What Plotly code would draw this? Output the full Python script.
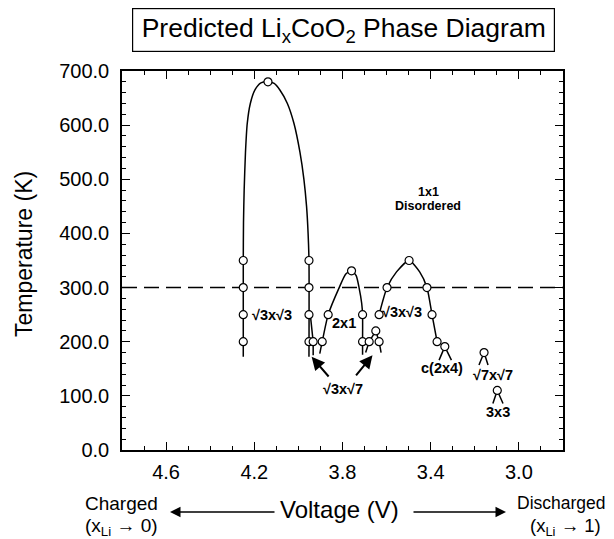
import plotly.graph_objects as go

# ---------------- data (Voltage V, Temperature K) ----------------
dome1_v = [4.25, 4.25, 4.249, 4.246, 4.240, 4.232, 4.218, 4.197, 4.17, 4.138, 4.11, 4.084, 4.05, 4.02, 3.993, 3.975, 3.963, 3.956, 3.952, 3.952]
dome1_t = [172, 350, 420, 480, 550, 603, 640, 665, 678, 680, 677, 665, 640, 603, 550, 500, 450, 400, 350, 172]

tail1_v = [3.946, 3.933, 3.933]
tail1_t = [250, 200, 175]

dome2x1_v = [3.903, 3.892, 3.865, 3.815, 3.785, 3.759, 3.738, 3.725, 3.713, 3.709, 3.709, 3.709]
dome2x1_t = [178, 200, 250, 300, 325, 331, 322, 300, 271, 250, 200, 176]

s37_v = [3.695, 3.679, 3.649, 3.634, 3.625]
s37_t = [180, 200, 220, 200, 180]

dome33_v = [3.634, 3.598, 3.555, 3.498, 3.45, 3.417, 3.394, 3.371]
dome33_t = [250, 300, 329, 350, 329, 300, 250, 200]

c24_v = [3.362, 3.336, 3.306]
c24_t = [166, 191, 166]

s77_v = [3.181, 3.158, 3.140]
s77_t = [157, 180, 157]

p33_v = [3.118, 3.098, 3.072]
p33_t = [86, 110, 86]

pts_v = [4.25, 4.25, 4.25, 4.25, 4.138, 3.952, 3.952, 3.952, 3.952, 3.933,
         3.892, 3.865, 3.759, 3.709, 3.709, 3.679, 3.649, 3.634,
         3.634, 3.598, 3.498, 3.417, 3.394, 3.371, 3.336, 3.158, 3.098]
pts_t = [350, 300, 250, 200, 680, 350, 300, 250, 200, 200,
         200, 250, 331, 250, 200, 200, 220, 200,
         250, 300, 350, 300, 250, 200, 191, 180, 110]

label_text = ["√3x√3", "2x1", "√3x√7", "√3x√3", "c(2x4)", "√7x√7", "3x3"]
label_v = [4.122, 3.794, 3.797, 3.529, 3.351, 3.118, 3.095]
label_t = [250, 235, 112, 255, 151, 138, 70]

region_text = ["1x1", "Disordered"]
region_v = [3.412, 3.412]
region_t = [477, 450]

x_ticks = [4.6, 4.2, 3.8, 3.4, 3.0]
y_ticks = [0, 100, 200, 300, 400, 500, 600, 700]
room_temp = 300

# ---------------- figure ----------------
OFF = 8                      # page body margin of the browser
W, H = 614 - OFF, 539 - OFF
L, R, T, B = 122, 563, 71, 450   # plot frame in window pixels
FONT = "Liberation Sans, Arial, Helvetica, sans-serif"


def px(xp):
    return (xp - L) / (R - L)


def py(yp):
    return (B - yp) / (B - T)


fig = go.Figure()
line_style = dict(color="black", width=1.5)

fig.add_trace(go.Scatter(x=dome1_v, y=dome1_t, mode="lines", line=dict(**line_style, shape="spline", smoothing=0.6)))
fig.add_trace(go.Scatter(x=tail1_v, y=tail1_t, mode="lines", line=line_style))
fig.add_trace(go.Scatter(x=dome2x1_v, y=dome2x1_t, mode="lines", line=dict(**line_style, shape="spline", smoothing=0.6)))
fig.add_trace(go.Scatter(x=s37_v, y=s37_t, mode="lines", line=line_style))
fig.add_trace(go.Scatter(x=dome33_v, y=dome33_t, mode="lines", line=dict(**line_style, shape="spline", smoothing=0.6)))
for vv, tt in [(c24_v, c24_t), (s77_v, s77_t), (p33_v, p33_t)]:
    fig.add_trace(go.Scatter(x=vv, y=tt, mode="lines", line=line_style))

fig.add_trace(go.Scatter(x=pts_v, y=pts_t, mode="markers",
                         marker=dict(symbol="circle", size=8, color="white",
                                     line=dict(color="black", width=1.2))))

fig.add_shape(type="line", xref="paper", yref="y", x0=0, x1=1, y0=room_temp, y1=room_temp,
              line=dict(color="black", width=1.5, dash="15px,7px"), layer="below")

for txt, vv, tt in zip(label_text, label_v, label_t):
    fig.add_annotation(x=vv, y=tt, text=txt, showarrow=False, xanchor="center", yanchor="middle",
                       font=dict(family=FONT, size=14.5, color="black", weight="bold"))
for txt, vv, tt in zip(region_text, region_v, region_t):
    fig.add_annotation(x=vv, y=tt, text=txt, showarrow=False, xanchor="center", yanchor="middle",
                       font=dict(family=FONT, size=12.5, color="black", weight="bold"))

# arrows to the sqrt3 x sqrt7 regions
fig.add_annotation(x=3.94, y=172, ax=3.857, ay=133, axref="x", ayref="y", text="",
                   showarrow=True, arrowhead=2, arrowsize=1.3, arrowwidth=2, arrowcolor="black")
fig.add_annotation(x=3.664, y=175, ax=3.744, ay=135, axref="x", ayref="y", text="",
                   showarrow=True, arrowhead=2, arrowsize=1.3, arrowwidth=2, arrowcolor="black")

# title box
fig.add_annotation(xref="paper", yref="paper", x=px(343.5), y=py(30),
                   text="Predicted Li<sub>x</sub>CoO<sub>2</sub> Phase Diagram",
                   showarrow=False, font=dict(family=FONT, size=26.5, color="black"),
                   bordercolor="black", borderwidth=1.2, borderpad=0, width=421, height=42,
                   xanchor="center", yanchor="middle")

# y axis title
fig.add_annotation(xref="paper", yref="paper", x=px(24), y=py(254), text="Temperature (K)", textangle=-90,
                   showarrow=False, xanchor="center", yanchor="middle",
                   font=dict(family=FONT, size=23, color="black"))

# bottom labels
fig.add_annotation(xref="paper", yref="paper", x=px(339), y=py(509), text="Voltage (V)",
                   showarrow=False, xanchor="center", yanchor="middle",
                   font=dict(family=FONT, size=24, color="black"))
fig.add_annotation(xref="paper", yref="paper", x=px(121), y=py(503), text="Charged",
                   showarrow=False, xanchor="center", yanchor="middle",
                   font=dict(family=FONT, size=19, color="black"))
fig.add_annotation(xref="paper", yref="paper", x=px(121), y=py(527), text="(x<sub>Li</sub> → 0)",
                   showarrow=False, xanchor="center", yanchor="middle",
                   font=dict(family=FONT, size=19, color="black"))
fig.add_annotation(xref="paper", yref="paper", x=px(561), y=py(503), text="Discharged",
                   showarrow=False, xanchor="center", yanchor="middle",
                   font=dict(family=FONT, size=17.5, color="black"))
fig.add_annotation(xref="paper", yref="paper", x=px(565), y=py(527), text="(x<sub>Li</sub> → 1)",
                   showarrow=False, xanchor="center", yanchor="middle",
                   font=dict(family=FONT, size=18.5, color="black"))
fig.add_annotation(xref="paper", yref="paper", x=px(170), y=py(512), ax=106, ay=0, text="",
                   showarrow=True, arrowhead=2, arrowsize=1.4, arrowwidth=1.5, arrowcolor="black")
fig.add_annotation(xref="paper", yref="paper", x=px(506), y=py(512), ax=-94, ay=0, text="",
                   showarrow=True, arrowhead=2, arrowsize=1.4, arrowwidth=1.5, arrowcolor="black")

fig.update_layout(
    width=W, height=H,
    margin=dict(l=L - OFF, r=W - (R - OFF), t=T - OFF, b=H - (B - OFF)),
    paper_bgcolor="white", plot_bgcolor="white",
    showlegend=False,
    font=dict(family=FONT, color="black"),
)
fig.update_xaxes(range=[4.8, 2.8], tickvals=x_ticks, ticktext=[f"{v:.1f}" for v in x_ticks],
                 ticks="inside", ticklen=8, tickwidth=1.3, tickcolor="black",
                 minor=dict(dtick=0.1, tick0=3.0, ticks="inside", ticklen=4, tickwidth=1, tickcolor="black"),
                 showline=True, linecolor="black", linewidth=1.5, mirror="ticks",
                 showgrid=False, zeroline=False, tickfont=dict(size=20), ticklabelstandoff=3)
fig.update_yaxes(range=[0, 700], tickvals=y_ticks, ticktext=[f"{v:.1f}" for v in y_ticks],
                 ticks="inside", ticklen=8, tickwidth=1.3, tickcolor="black",
                 minor=dict(dtick=20, ticks="inside", ticklen=4, tickwidth=1, tickcolor="black"),
                 showline=True, linecolor="black", linewidth=1.5, mirror="ticks",
                 showgrid=False, zeroline=False, tickfont=dict(size=20), ticklabelstandoff=7)

fig.write_html("out.html")
